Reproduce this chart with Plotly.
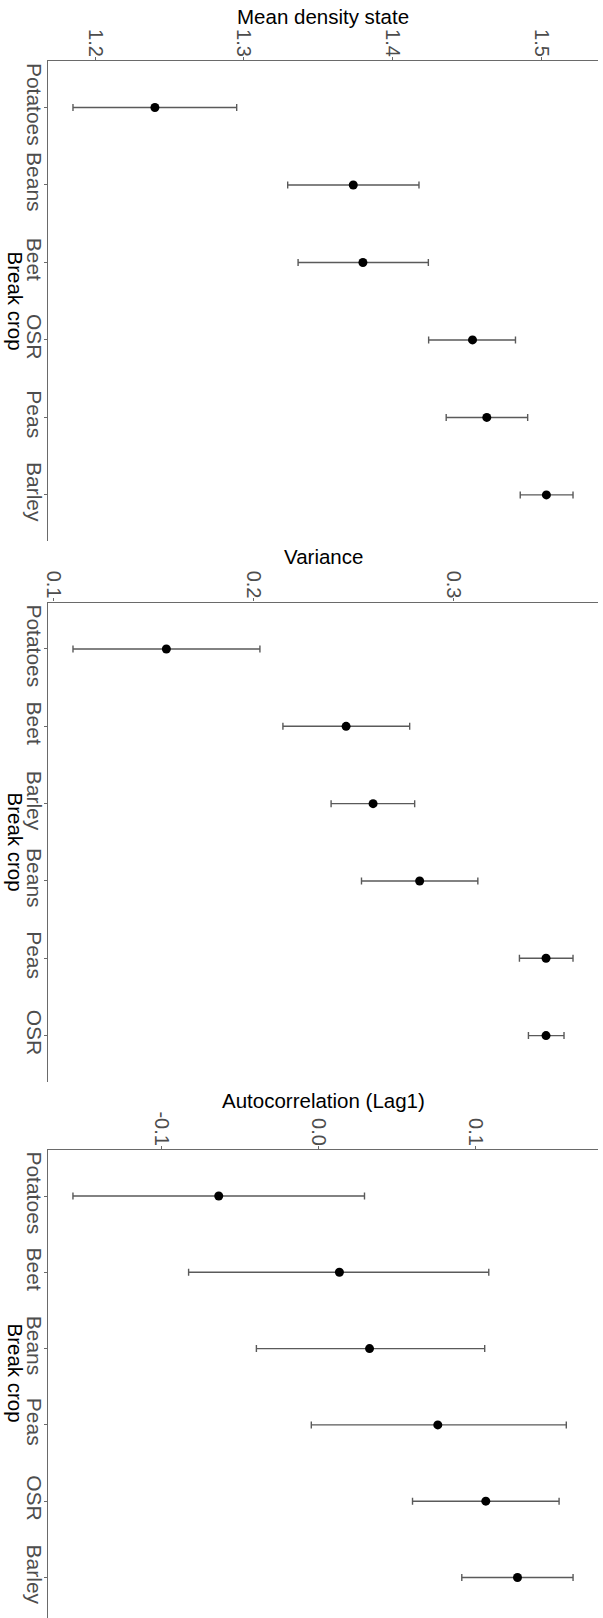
import plotly.graph_objects as go

# Panel 1: mean density state by break crop
mean_crops = ["Potatoes", "Beans", "Beet", "OSR", "Peas", "Barley"]
mean_est = [1.2401, 1.3735, 1.3800, 1.4537, 1.4633, 1.5034]
mean_lo = [1.1850, 1.3294, 1.3364, 1.4242, 1.4360, 1.4858]
mean_hi = [1.2951, 1.4177, 1.4240, 1.4826, 1.4908, 1.5213]
mean_ticks = [1.2, 1.3, 1.4, 1.5]
mean_ticktext = ["1.2", "1.3", "1.4", "1.5"]

# Panel 2: variance by break crop
var_crops = ["Potatoes", "Beet", "Barley", "Beans", "Peas", "OSR"]
var_est = [0.1566, 0.2465, 0.2600, 0.2833, 0.3465, 0.3465]
var_lo = [0.1099, 0.2149, 0.2390, 0.2542, 0.3332, 0.3377]
var_hi = [0.2034, 0.2783, 0.2808, 0.3124, 0.3600, 0.3555]
var_ticks = [0.1, 0.2, 0.3]
var_ticktext = ["0.1", "0.2", "0.3"]

# Panel 3: lag-1 autocorrelation by break crop
ac_crops = ["Potatoes", "Beet", "Beans", "Peas", "OSR", "Barley"]
ac_est = [-0.0636, 0.0133, 0.0325, 0.0760, 0.1066, 0.1268]
ac_lo = [-0.1565, -0.0828, -0.0396, -0.0046, 0.0599, 0.0913]
ac_hi = [0.0293, 0.1085, 0.1059, 0.1579, 0.1533, 0.1622]
ac_ticks = [-0.1, 0.0, 0.1]
ac_ticktext = ["-0.1", "0.0", "0.1"]

titles = ["Mean density state", "Variance", "Autocorrelation (Lag1)"]
y_title = "Break crop"

W, H = 603, 1618
FONT = "Liberation Sans, Arial, sans-serif"
AXIS_GREY = "#6a6a6a"
TEXT_GREY = "#4d4d4d"


def py(px):
    """Pixel row (from top) to paper fraction."""
    return 1 - px / H


panels = [
    dict(crops=mean_crops, est=mean_est, lo=mean_lo, hi=mean_hi,
         ticks=mean_ticks, ticktext=mean_ticktext,
         xr=[1.1682, 1.5381], top=61, bottom=541.4, yr=[5.6, -0.6],
         title_y=17, ylab_y=301),
    dict(crops=var_crops, est=var_est, lo=var_lo, hi=var_hi,
         ticks=var_ticks, ticktext=var_ticktext,
         xr=[0.0974, 0.3725], top=602.6, bottom=1082, yr=[5.6, -0.6],
         title_y=557, ylab_y=842),
    dict(crops=ac_crops, est=ac_est, lo=ac_lo, hi=ac_hi,
         ticks=ac_ticks, ticktext=ac_ticktext,
         xr=[-0.1724, 0.1781], top=1150, bottom=1618, yr=[5.531, -0.603],
         title_y=1100, ylab_y=1373),
]

fig = go.Figure()
annotations = []
for i, p in enumerate(panels, start=1):
    sfx = "" if i == 1 else str(i)
    plus = [h - e for h, e in zip(p["hi"], p["est"])]
    minus = [e - l for e, l in zip(p["est"], p["lo"])]
    fig.add_trace(go.Scatter(
        x=p["est"], y=p["crops"], mode="markers",
        xaxis="x" + sfx, yaxis="y" + sfx,
        marker=dict(color="black", size=9),
        error_x=dict(type="data", symmetric=False, array=plus,
                     arrayminus=minus, color="#5a5a5a",
                     thickness=1.4, width=3.5),
        showlegend=False, hoverinfo="x+y",
    ))
    fig.update_layout(**{
        "xaxis" + sfx: dict(
            domain=[0, 1], anchor="y" + sfx, side="top",
            range=p["xr"], tickvals=p["ticks"], ticktext=p["ticktext"],
            tickangle=90, ticks="outside", ticklen=3, tickwidth=1,
            tickcolor=AXIS_GREY, showline=True, linecolor=AXIS_GREY,
            linewidth=1.3, showgrid=False, zeroline=False,
            ticklabelstandoff=-7,
            tickfont=dict(family=FONT, size=20, color=TEXT_GREY),
        ),
        "yaxis" + sfx: dict(
            domain=[py(p["bottom"]), py(p["top"])], anchor="x" + sfx,
            type="category", categoryarray=p["crops"], range=p["yr"],
            tickangle=90, ticks="outside", ticklen=3, tickwidth=1,
            tickcolor=AXIS_GREY, showline=True, linecolor=AXIS_GREY,
            linewidth=1.3, showgrid=False, zeroline=False,
            ticklabelstandoff=-8,
            tickfont=dict(family=FONT, size=21, color=TEXT_GREY),
        ),
    })
    annotations.append(dict(
        text=titles[i - 1], xref="paper", yref="paper",
        x=0.5, y=py(p["title_y"]), xanchor="center", yanchor="middle",
        showarrow=False, font=dict(family=FONT, size=20.5, color="black"),
    ))
    annotations.append(dict(
        text=y_title, xref="paper", yref="paper",
        x=(15.5 - 48) / (W - 48 - 5), y=py(p["ylab_y"]),
        xanchor="center", yanchor="middle", textangle=90,
        showarrow=False, font=dict(family=FONT, size=20.5, color="black"),
    ))

fig.update_layout(
    width=W, height=H,
    margin=dict(l=48, r=5, t=0, b=0),
    paper_bgcolor="white", plot_bgcolor="white",
    annotations=annotations,
)

fig.write_html("out.html")
